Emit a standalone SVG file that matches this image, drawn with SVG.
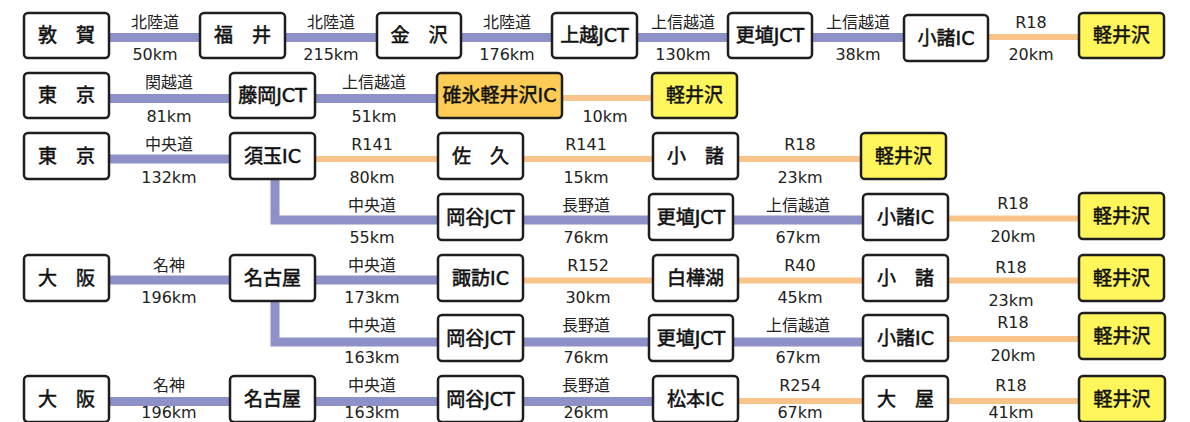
<svg xmlns="http://www.w3.org/2000/svg" width="1190" height="422" viewBox="0 0 1190 422">
<style>
.bx{fill:#fff;stroke:#1e1e1e;stroke-width:2.5}
.y{fill:#fff65c}
.o{fill:#fccc55}
.bt{font-family:"DejaVu Sans","Noto Sans CJK JP",sans-serif;font-size:19px;font-weight:normal;fill:#111;stroke:#111;stroke-width:0.55;text-anchor:middle}
.lb{font-family:"DejaVu Sans","Noto Sans CJK JP",sans-serif;font-size:16px;fill:#222;text-anchor:middle}
.hw{stroke:#8e91c8;stroke-width:9;fill:none;stroke-linejoin:miter}
.rd{stroke:#f9c48a;stroke-width:6;fill:none}
</style>
<g id="connectors">
<path class="hw" d="M109,37.5H200M285,37.5H377M461,37.5H552M637,37.5H728M812,37.5H904"/>
<path class="rd" d="M988,37H1079"/>
<path class="hw" d="M109,98.5H230M315,98.5H437"/>
<path class="rd" d="M562,98H652"/>
<path class="hw" d="M109,159H230"/>
<path class="rd" d="M315,159H438M523,159H653M738,159H861"/>
<path class="hw" d="M275,180V220H438M523,220H649M733,220H863"/>
<path class="rd" d="M948,218.5H1079"/>
<path class="hw" d="M109,280H230M315,280H438"/>
<path class="rd" d="M523,280.5H653M738,280.5H863M948,280.5H1079"/>
<path class="hw" d="M275,301V342H438M523,342H649M733,342H863"/>
<path class="rd" d="M948,339H1079"/>
<path class="hw" d="M109,401.5H230M315,401.5H438M523,401.5H653"/>
<path class="rd" d="M738,401H863M948,401H1079"/>
</g>
<g id="labels">
<text class="lb" x="155" y="28">北陸道</text><text class="lb" x="155" y="60">50km</text>
<text class="lb" x="331" y="28">北陸道</text><text class="lb" x="331" y="60">215km</text>
<text class="lb" x="507" y="28">北陸道</text><text class="lb" x="507" y="60">176km</text>
<text class="lb" x="683" y="28">上信越道</text><text class="lb" x="683" y="60">130km</text>
<text class="lb" x="858" y="28">上信越道</text><text class="lb" x="858" y="60">38km</text>
<text class="lb" x="1031" y="28">R18</text><text class="lb" x="1031" y="60">20km</text>
<text class="lb" x="169" y="88">関越道</text><text class="lb" x="169" y="122">81km</text>
<text class="lb" x="374" y="88">上信越道</text><text class="lb" x="374" y="122">51km</text>
<text class="lb" x="605" y="122">10km</text>
<text class="lb" x="169" y="150">中央道</text><text class="lb" x="169" y="183">132km</text>
<text class="lb" x="372" y="150">R141</text><text class="lb" x="372" y="183">80km</text>
<text class="lb" x="586" y="150">R141</text><text class="lb" x="586" y="183">15km</text>
<text class="lb" x="800" y="150">R18</text><text class="lb" x="800" y="183">23km</text>
<text class="lb" x="372" y="211">中央道</text><text class="lb" x="372" y="243">55km</text>
<text class="lb" x="586" y="211">長野道</text><text class="lb" x="586" y="243">76km</text>
<text class="lb" x="798" y="211">上信越道</text><text class="lb" x="798" y="243">67km</text>
<text class="lb" x="1013" y="209">R18</text><text class="lb" x="1013" y="242">20km</text>
<text class="lb" x="169" y="271">名神</text><text class="lb" x="169" y="303">196km</text>
<text class="lb" x="372" y="271">中央道</text><text class="lb" x="372" y="303">173km</text>
<text class="lb" x="588" y="271">R152</text><text class="lb" x="588" y="303">30km</text>
<text class="lb" x="800" y="271">R40</text><text class="lb" x="800" y="303">45km</text>
<text class="lb" x="1011" y="273">R18</text><text class="lb" x="1011" y="306">23km</text>
<text class="lb" x="372" y="331">中央道</text><text class="lb" x="372" y="363">163km</text>
<text class="lb" x="586" y="331">長野道</text><text class="lb" x="586" y="363">76km</text>
<text class="lb" x="798" y="331">上信越道</text><text class="lb" x="798" y="363">67km</text>
<text class="lb" x="1013" y="328">R18</text><text class="lb" x="1013" y="361">20km</text>
<text class="lb" x="169" y="391">名神</text><text class="lb" x="169" y="418">196km</text>
<text class="lb" x="372" y="391">中央道</text><text class="lb" x="372" y="418">163km</text>
<text class="lb" x="586" y="391">長野道</text><text class="lb" x="586" y="418">26km</text>
<text class="lb" x="800" y="391">R254</text><text class="lb" x="800" y="418">67km</text>
<text class="lb" x="1011" y="391">R18</text><text class="lb" x="1011" y="418">41km</text>
</g>
<g id="n-tsuruga"><rect class="bx" x="24" y="13" width="85" height="45" rx="4"/><text class="bt" x="66.5" y="42">敦　賀</text></g>
<g id="n-fukui"><rect class="bx" x="200" y="13" width="85" height="45" rx="4"/><text class="bt" x="242.5" y="42">福　井</text></g>
<g id="n-kanazawa"><rect class="bx" x="377" y="13" width="84" height="45" rx="4"/><text class="bt" x="419" y="42">金　沢</text></g>
<g id="n-joetsu"><rect class="bx" x="552" y="13" width="85" height="45" rx="4"/><text class="bt" x="594.5" y="42">上越JCT</text></g>
<g id="n-koshoku1"><rect class="bx" x="728" y="13" width="84" height="45" rx="4"/><text class="bt" x="770" y="42">更埴JCT</text></g>
<g id="n-komoroic1"><rect class="bx" x="904" y="15" width="84" height="46" rx="4"/><text class="bt" x="946" y="45">小諸IC</text></g>
<g id="n-karuizawa1"><rect class="bx y" x="1079" y="13" width="85" height="45" rx="4"/><text class="bt" x="1121.5" y="42">軽井沢</text></g>

<g id="n-tokyo1"><rect class="bx" x="24" y="73" width="85" height="45" rx="4"/><text class="bt" x="66.5" y="102">東　京</text></g>
<g id="n-fujioka"><rect class="bx" x="230" y="73" width="85" height="45" rx="4"/><text class="bt" x="272.5" y="102">藤岡JCT</text></g>
<g id="n-usui"><rect class="bx o" x="437" y="73" width="125" height="45" rx="4"/><text class="bt" x="499.5" y="102">碓氷軽井沢IC</text></g>
<g id="n-karuizawa2"><rect class="bx y" x="652" y="73" width="85" height="45" rx="4"/><text class="bt" x="694.5" y="102">軽井沢</text></g>

<g id="n-tokyo2"><rect class="bx" x="24" y="133" width="85" height="46" rx="4"/><text class="bt" x="66.5" y="163">東　京</text></g>
<g id="n-sudama"><rect class="bx" x="230" y="133" width="85" height="46" rx="4"/><text class="bt" x="272.5" y="163">須玉IC</text></g>
<g id="n-saku"><rect class="bx" x="438" y="133" width="85" height="46" rx="4"/><text class="bt" x="480.5" y="163">佐　久</text></g>
<g id="n-komoro1"><rect class="bx" x="653" y="133" width="85" height="46" rx="4"/><text class="bt" x="695.5" y="163">小　諸</text></g>
<g id="n-karuizawa3"><rect class="bx y" x="861" y="133" width="85" height="46" rx="4"/><text class="bt" x="903.5" y="163">軽井沢</text></g>

<g id="n-okaya1"><rect class="bx" x="438" y="194" width="85" height="46" rx="4"/><text class="bt" x="480.5" y="224">岡谷JCT</text></g>
<g id="n-koshoku2"><rect class="bx" x="649" y="194" width="84" height="46" rx="4"/><text class="bt" x="691" y="224">更埴JCT</text></g>
<g id="n-komoroic2"><rect class="bx" x="863" y="194" width="85" height="46" rx="4"/><text class="bt" x="905.5" y="224">小諸IC</text></g>
<g id="n-karuizawa4"><rect class="bx y" x="1079" y="193" width="85" height="46" rx="4"/><text class="bt" x="1121.5" y="223">軽井沢</text></g>

<g id="n-osaka1"><rect class="bx" x="24" y="255" width="85" height="46" rx="4"/><text class="bt" x="66.5" y="285">大　阪</text></g>
<g id="n-nagoya1"><rect class="bx" x="230" y="255" width="85" height="46" rx="4"/><text class="bt" x="272.5" y="285">名古屋</text></g>
<g id="n-suwa"><rect class="bx" x="438" y="255" width="85" height="46" rx="4"/><text class="bt" x="480.5" y="285">諏訪IC</text></g>
<g id="n-shirakaba"><rect class="bx" x="653" y="255" width="85" height="46" rx="4"/><text class="bt" x="695.5" y="285">白樺湖</text></g>
<g id="n-komoro2"><rect class="bx" x="863" y="255" width="85" height="46" rx="4"/><text class="bt" x="905.5" y="285">小　諸</text></g>
<g id="n-karuizawa5"><rect class="bx y" x="1079" y="255" width="85" height="46" rx="4"/><text class="bt" x="1121.5" y="285">軽井沢</text></g>

<g id="n-okaya2"><rect class="bx" x="438" y="315" width="85" height="46" rx="4"/><text class="bt" x="480.5" y="345">岡谷JCT</text></g>
<g id="n-koshoku3"><rect class="bx" x="649" y="315" width="84" height="46" rx="4"/><text class="bt" x="691" y="345">更埴JCT</text></g>
<g id="n-komoroic3"><rect class="bx" x="863" y="315" width="85" height="46" rx="4"/><text class="bt" x="905.5" y="345">小諸IC</text></g>
<g id="n-karuizawa6"><rect class="bx y" x="1079" y="313" width="86" height="46" rx="4"/><text class="bt" x="1122" y="343">軽井沢</text></g>

<g id="n-osaka2"><rect class="bx" x="24" y="376" width="85" height="46" rx="4"/><text class="bt" x="66.5" y="406">大　阪</text></g>
<g id="n-nagoya2"><rect class="bx" x="230" y="376" width="85" height="46" rx="4"/><text class="bt" x="272.5" y="406">名古屋</text></g>
<g id="n-okaya3"><rect class="bx" x="438" y="376" width="85" height="46" rx="4"/><text class="bt" x="480.5" y="406">岡谷JCT</text></g>
<g id="n-matsumoto"><rect class="bx" x="653" y="376" width="85" height="46" rx="4"/><text class="bt" x="695.5" y="406">松本IC</text></g>
<g id="n-oya"><rect class="bx" x="863" y="376" width="85" height="46" rx="4"/><text class="bt" x="905.5" y="406">大　屋</text></g>
<g id="n-karuizawa7"><rect class="bx y" x="1079" y="376" width="86" height="46" rx="4"/><text class="bt" x="1122" y="406">軽井沢</text></g>
</svg>
